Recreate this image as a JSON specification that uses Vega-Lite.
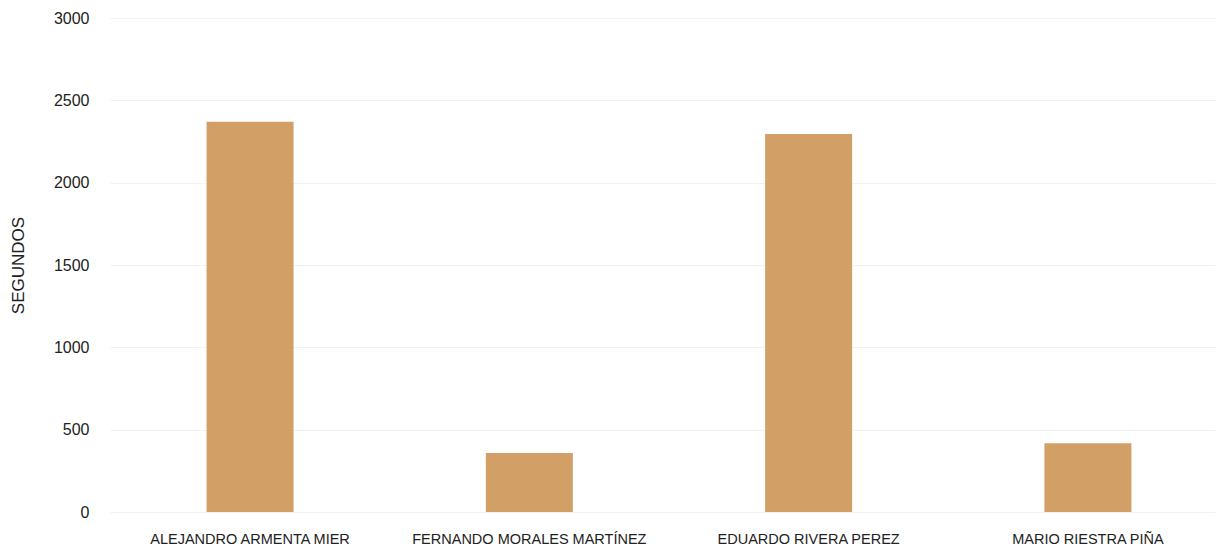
{
  "$schema": "https://vega.github.io/schema/vega-lite/v6.json",
  "autosize": "none",
  "width": 1105,
  "height": 494,
  "padding": {"left": 110, "top": 18, "right": 2, "bottom": 44},
  "background": "white",
  "config": {
    "view": {"stroke": null},
    "font": "Liberation Sans"
  },
  "data": {
    "values": [
      {"candidato": "ALEJANDRO ARMENTA MIER", "segundos": 2370},
      {"candidato": "FERNANDO MORALES MARTÍNEZ", "segundos": 358},
      {"candidato": "EDUARDO RIVERA PEREZ", "segundos": 2295},
      {"candidato": "MARIO RIESTRA PIÑA", "segundos": 418}
    ]
  },
  "mark": {"type": "bar", "color": "#D2A067"},
  "encoding": {
    "x": {
      "field": "candidato",
      "type": "nominal",
      "sort": null,
      "scale": {"paddingInner": 0.6885, "paddingOuter": 0.3225, "align": 0.536},
      "axis": {
        "title": null,
        "labelAngle": 0,
        "labelFont": "Liberation Sans",
        "labelFontSize": 14.5,
        "labelColor": "#222222",
        "labelPadding": 20,
        "labelLimit": 0,
        "ticks": false,
        "domain": false,
        "grid": false
      }
    },
    "y": {
      "field": "segundos",
      "type": "quantitative",
      "scale": {"domain": [0, 3000], "nice": false},
      "axis": {
        "title": "SEGUNDOS",
        "titleFont": "Liberation Sans",
        "titleFontSize": 17,
        "titleFontWeight": "normal",
        "titleColor": "#222222",
        "titlePadding": 26,
        "format": "d",
        "values": [0, 500, 1000, 1500, 2000, 2500, 3000],
        "labelFont": "Liberation Sans",
        "labelFontSize": 16,
        "labelColor": "#222222",
        "labelPadding": 21,
        "ticks": false,
        "domain": false,
        "grid": true,
        "gridColor": "#f2f2f2",
        "gridWidth": 1
      }
    }
  }
}
